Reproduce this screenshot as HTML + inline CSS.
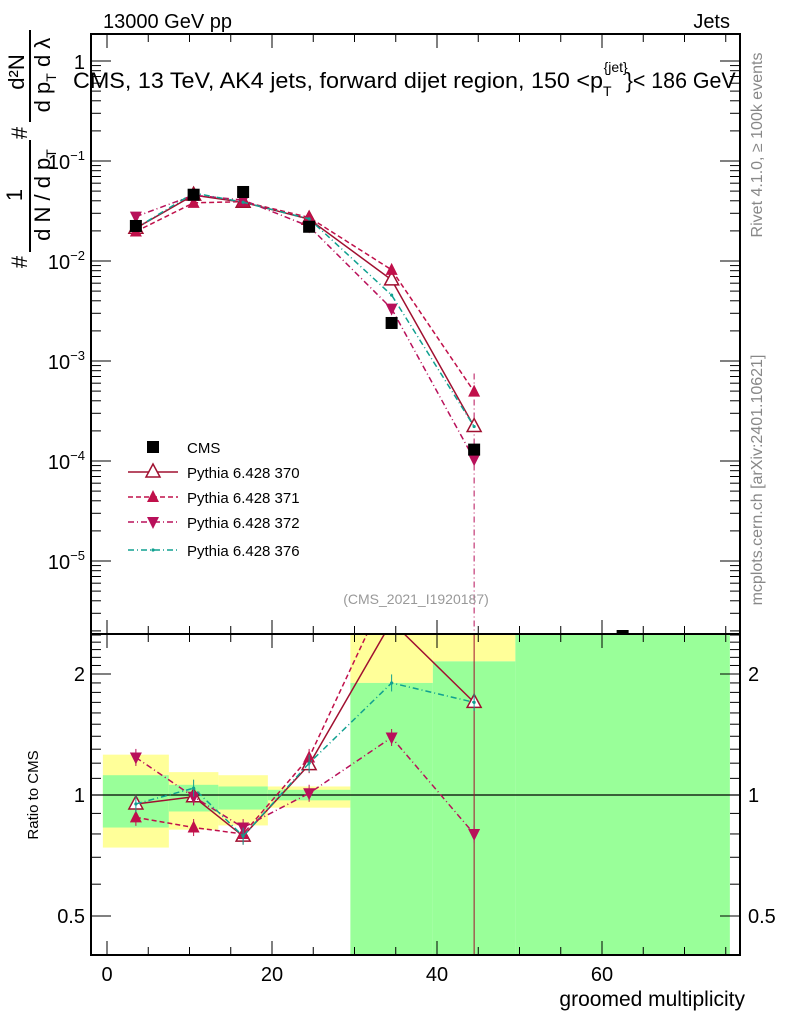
<!DOCTYPE html>
<html><head><meta charset="utf-8">
<style>
html,body{margin:0;padding:0;background:#fff;overflow:hidden;width:786px;height:1024px;}
svg{display:block;font-family:"Liberation Sans",sans-serif;}
</style></head>
<body>
<svg id="chart" width="786" height="1024" xmlns="http://www.w3.org/2000/svg">
<g id="ratio-bands"></g>
<g id="main-layer"></g>
<g id="ratio-layer"></g>
<g id="axes-layer"></g>
<text x="103" y="28" font-size="20">13000 GeV pp</text>
<text x="730" y="28" font-size="20" text-anchor="end">Jets</text>
<text x="73" y="88" font-size="22"><tspan textLength="530" lengthAdjust="spacingAndGlyphs">CMS, 13 TeV, AK4 jets, forward dijet region, 150 &lt;p</tspan><tspan font-size="14" dy="8">T</tspan><tspan font-size="14" dy="-24" dx="-8">{jet}</tspan><tspan dy="16" dx="-2" textLength="110" lengthAdjust="spacingAndGlyphs">}&lt; 186 GeV</tspan></text>
<g font-size="22">
<text transform="translate(22,195) rotate(-90)" text-anchor="middle">1</text>
<text transform="translate(50,195) rotate(-90)" text-anchor="middle">d N / d p<tspan font-size="14" dy="6">T</tspan></text>
<text transform="translate(24,72) rotate(-90)" text-anchor="middle">d²N</text>
<text transform="translate(50,75) rotate(-90)" text-anchor="middle">d p<tspan font-size="14" dy="6">T</tspan><tspan dy="-6"> d λ</tspan></text>
<text transform="translate(27,262) rotate(-90)" text-anchor="middle">#</text>
<text transform="translate(27,133) rotate(-90)" text-anchor="middle">#</text>
<line x1="30" x2="30" y1="140" y2="252" stroke="#000" stroke-width="2"/>
<line x1="30" x2="30" y1="30" y2="122" stroke="#000" stroke-width="2"/>
</g>
<text transform="translate(38,795) rotate(-90)" font-size="15" text-anchor="middle">Ratio to CMS</text>
<text x="745" y="1006" font-size="21" text-anchor="end">groomed multiplicity</text>
<text transform="translate(762,145) rotate(-90)" font-size="16" fill="#888" text-anchor="middle">Rivet 4.1.0, ≥ 100k events</text>
<text transform="translate(762,480) rotate(-90)" font-size="16" fill="#888" text-anchor="middle">mcplots.cern.ch [arXiv:2401.10621]</text>
<text x="416" y="604" font-size="14" fill="#999" text-anchor="middle">(CMS_2021_I1920187)</text>
<g id="legend"></g>
</svg>
<script>
const xCenters=[3.5,10.5,16.5,24.5,34.5,44.5];
const cmsVals=[0.0224,0.046,0.049,0.022,0.0024,0.00013];
const r370=[0.95,0.99,0.79,1.19,2.7,1.7];
const r371=[0.88,0.83,0.80,1.24,3.4,3.8];
const r372=[1.24,0.99,0.83,1.01,1.39,0.80];
const r376=[0.95,1.04,0.79,1.2,1.9,1.7];
const binEdges=[-0.5,7.5,13.5,19.5,29.5,39.5,49.5,75.5];
const yellowHi=[1.26,1.14,1.12,1.05,3,3,3];
const yellowLo=[0.74,0.82,0.84,0.93,1.9,2.15,3];
const greenHi=[1.12,1.06,1.05,1.03,1.9,2.15,3];
const greenLo=[0.83,0.91,0.92,0.97,0.1,0.1,0.1];
const xTicks=[0,20,40,60];
const mainTicks=[0,-1,-2,-3,-4,-5];
const ratioTicks=[0.5,1,2];

const NS="http://www.w3.org/2000/svg";
const L=91,R=740,T=34,MB=634,RB=955;
const X=v=>107+v*8.25;
const Y=v=>161-(Math.log10(v)+1)*100;
const RY=v=>795-Math.log10(v)*402;
function mk(tag,attrs,parent){const e=document.createElementNS(NS,tag);for(const k in attrs)e.setAttribute(k,attrs[k]);parent.appendChild(e);return e;}
const bands=document.getElementById('ratio-bands');
const main=document.getElementById('main-layer');
const rat=document.getElementById('ratio-layer');
const ax=document.getElementById('axes-layer');
const leg=document.getElementById('legend');
const clipR=mk('clipPath',{id:'cr'},document.getElementById('chart'));
mk('rect',{x:L,y:MB,width:R-L,height:RB-MB},clipR);
const clipM=mk('clipPath',{id:'cm'},document.getElementById('chart'));
mk('rect',{x:L,y:T,width:R-L,height:MB-T},clipM);
bands.setAttribute('clip-path','url(#cr)');
rat.setAttribute('clip-path','url(#cr)');
main.setAttribute('clip-path','url(#cm)');

for(let i=0;i<binEdges.length-1;i++){
  const x0=X(binEdges[i]),w=X(binEdges[i+1])-x0;
  const y=mk('rect',{x:x0,y:RY(yellowHi[i]),width:w,height:RY(yellowLo[i])-RY(yellowHi[i]),fill:'#ffff99'},bands);
  
  
  const g=mk('rect',{x:x0,y:RY(greenHi[i]),width:w,height:RY(greenLo[i])-RY(greenHi[i]),fill:'#99ff99'},bands);
  
  
}
mk('line',{x1:L,x2:R,y1:RY(1),y2:RY(1),stroke:'#000','stroke-width':1.3},rat);

function marker(type,x,y,col,parent){
  let e;
  if(type==='sq') e=mk('rect',{x:x-6,y:y-6,width:12,height:12,fill:'#000'},parent);
  else if(type==='open') e=mk('polygon',{points:`${x},${y-8} ${x-7},${y+5} ${x+7},${y+5}`,fill:'#fff',stroke:col,'stroke-width':1.5},parent);
  else if(type==='up') e=mk('polygon',{points:`${x},${y-7} ${x-6},${y+5} ${x+6},${y+5}`,fill:col},parent);
  else if(type==='down') e=mk('polygon',{points:`${x},${y+7} ${x-6},${y-5} ${x+6},${y-5}`,fill:col},parent);
  else e=mk('circle',{cx:x,cy:y,r:1.6,fill:col},parent);
  return e;
}
const series=[
 {name:'Pythia 6.428 370',r:r370,col:'#a01030',dash:'',m:'open'},
 {name:'Pythia 6.428 371',r:r371,col:'#c0104a',dash:'5,3',m:'up'},
 {name:'Pythia 6.428 372',r:r372,col:'#b8105a',dash:'6,3,1,3',m:'down'},
 {name:'Pythia 6.428 376',r:r376,col:'#10a090',dash:'6,3,1,3',m:'dot'}
];
mk('line',{x1:X(44.5),x2:X(44.5),y1:MB,y2:RB,stroke:'#a01030','stroke-width':1},rat);
mk('line',{x1:X(44.5),x2:X(44.5),y1:Y(0.00075),y2:MB,stroke:'#b8105a','stroke-width':1,'stroke-dasharray':'6,3,1,3'},main);
series.forEach(s=>{
  const mv=s.r.map((r,i)=>r*cmsVals[i]);
  const pm=xCenters.map((x,i)=>X(x)+','+Y(mv[i])).join(' ');
  const l1=mk('polyline',{points:pm,fill:'none',stroke:s.col,'stroke-width':1.5,'stroke-dasharray':s.dash},main);
  
  
  const pr=xCenters.map((x,i)=>X(x)+','+RY(s.r[i])).join(' ');
  const l2=mk('polyline',{points:pr,fill:'none',stroke:s.col,'stroke-width':1.5,'stroke-dasharray':s.dash},rat);
  
  
  xCenters.forEach((x,i)=>{
    const m1=marker(s.m,X(x),Y(mv[i]),s.col,main);
    
    
    mk('line',{x1:X(x),x2:X(x),y1:RY(s.r[i]*1.05),y2:RY(s.r[i]/1.05),stroke:s.col,'stroke-width':1},rat);
    const m2=marker(s.m,X(x),RY(s.r[i]),s.col,rat);
    
    
  });
});
xCenters.forEach((x,i)=>{
  const c=marker('sq',X(x),Y(cmsVals[i]),'#000',main);
  
  
});
mk('rect',{x:X(62.5)-6,y:MB-4,width:12,height:4,fill:'#000'},ax);

mk('rect',{x:L,y:T,width:R-L,height:MB-T,fill:'none',stroke:'#000','stroke-width':2},ax);
mk('rect',{x:L,y:MB,width:R-L,height:RB-MB,fill:'none',stroke:'#000','stroke-width':2},ax);
for(let v=0;v<=75;v+=5){
  const big=v%20===0, len=big?14:8;
  [[T,1],[MB,-1],[MB,1],[RB,-1]].forEach(([y,d])=>mk('line',{x1:X(v),x2:X(v),y1:y,y2:y+d*len,stroke:'#000','stroke-width':1},ax));
}
xTicks.forEach(v=>{const t=mk('text',{x:X(v),y:981,'font-size':20,'text-anchor':'middle'},ax);t.textContent=v;});
mainTicks.forEach(p=>{
  const y=Y(Math.pow(10,p));
  [[L,1],[R,-1]].forEach(([x,d])=>mk('line',{x1:x,x2:x+d*20,y1:y,y2:y,stroke:'#000'},ax));
  const t=mk('text',{x:85,y:y+8,'font-size':20,'text-anchor':'end'},ax);
  if(p===0)t.textContent='1';else{t.textContent='10';const s=mk('tspan',{'font-size':13,dy:-9},t);s.textContent='−'+(-p);}
  for(let k=2;k<=9;k++){const yy=Y(k*Math.pow(10,p-1));if(yy>T&&yy<MB)[[L,1],[R,-1]].forEach(([x,d])=>mk('line',{x1:x,x2:x+d*10,y1:yy,y2:yy,stroke:'#000'},ax));}
});
[0.4,0.5,0.6,0.7,0.8,0.9,1,1.1,1.2,1.3,1.4,1.5,1.6,1.7,1.8,1.9,2,2.1,2.2,2.3,2.4,2.5].forEach(v=>{
  const y=RY(v),big=ratioTicks.includes(v);
  [[L,1],[R,-1]].forEach(([x,d])=>mk('line',{x1:x,x2:x+d*(big?20:10),y1:y,y2:y,stroke:'#000'},ax));
});
ratioTicks.forEach(v=>{
  const a=mk('text',{x:85,y:RY(v)+7,'font-size':20,'text-anchor':'end'},ax);a.textContent=v;
  const b=mk('text',{x:748,y:RY(v)+7,'font-size':20},ax);b.textContent=v;
});
const legY=[447,472,497,522,550];
marker('sq',153,legY[0],'#000',leg);
const lt=mk('text',{x:187,y:legY[0]+6,'font-size':15},leg);lt.textContent='CMS';
series.forEach((s,i)=>{
  const y=legY[i+1];
  mk('line',{x1:128,x2:178,y1:y,y2:y,stroke:s.col,'stroke-width':1.5,'stroke-dasharray':s.dash},leg);
  marker(s.m,153,y,s.col,leg);
  const t=mk('text',{x:187,y:y+6,'font-size':15},leg);t.textContent=s.name;
  
  
});
</script>
</body></html>
